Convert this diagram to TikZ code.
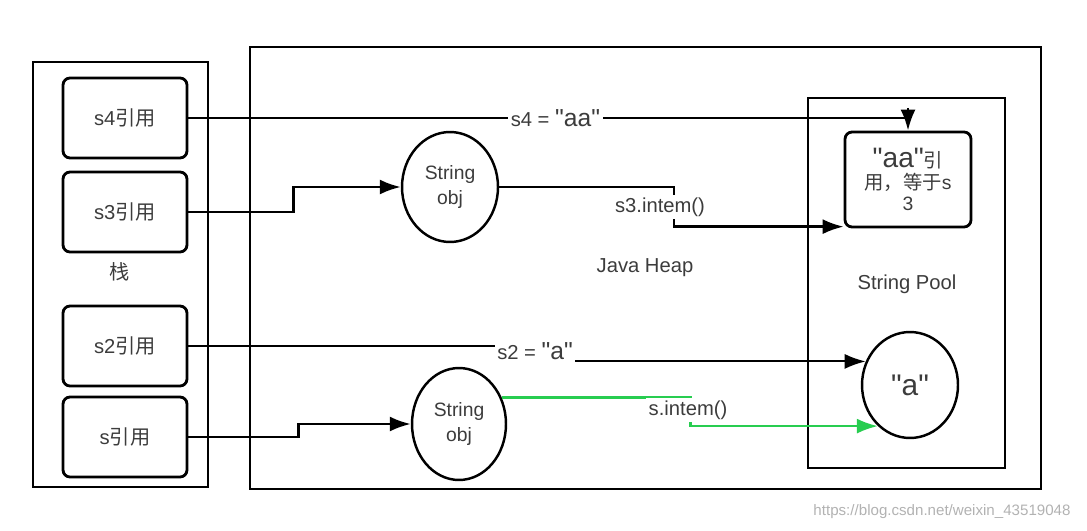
\documentclass[tikz,border=0pt]{standalone}
\usepackage{fontspec}
\setmainfont{Liberation Sans}
\newfontfamily\cjk{Noto Sans CJK SC}
\newfontfamily\qfont{Liberation Sans}
\usetikzlibrary{arrows.meta,shapes.geometric}

\definecolor{lblgray}{RGB}{60,60,60}
\definecolor{poolgreen}{RGB}{40,205,80}
\newcommand{\quoted}[1]{{\qfont"#1"}}

\tikzstyle{area}=[draw,line width=1.6pt,inner sep=0pt]
\tikzstyle{refbox}=[draw,line width=1.6pt,rounded corners=4pt,minimum width=2.48cm,minimum height=1.6cm,inner sep=0pt,text=lblgray,font=\fontsize{11.5}{13}\selectfont]
\tikzstyle{obj}=[draw,ellipse,line width=1.4pt,inner sep=0pt,align=center,text=lblgray,font=\fontsize{11}{14}\selectfont]
\tikzstyle{conn}=[line width=1.4pt]
\tikzstyle{lbl}=[fill=white,inner sep=1.5pt,text=lblgray,font=\fontsize{11.5}{13}\selectfont]
\tikzstyle{title}=[inner sep=0pt,text=lblgray,font=\fontsize{11.5}{13}\selectfont]

\begin{document}
\begin{tikzpicture}[x=0.02cm,y=-0.02cm]
	\useasboundingbox (0,0) rectangle (1087,530);
	\begin{scope}[>={Latex[length=0.42cm,width=0.3cm]}]
		% regions
		\node (stack)[area,minimum width=3.5cm,minimum height=8.5cm] at (120.5,274.5) {};
		\node (heap)[area,minimum width=15.82cm,minimum height=8.84cm] at (645.5,268) {};
		\node (pool)[area,minimum width=3.94cm,minimum height=7.4cm] at (906.5,283) {};
		\node (stacklbl)[title] at (120,272) {\cjk 栈};
		\node (heaplbl)[title] at (645,268) {Java Heap};
		\node (poollbl)[title] at (907,284) {String Pool};

		% references on the stack
		\node (s4)[refbox] at (125,118) {s4{\cjk 引用}};
		\node (s3)[refbox] at (125,212) {s3{\cjk 引用}};
		\node (s2)[refbox] at (125,346) {s2{\cjk 引用}};
		\node (s1)[refbox] at (125,437) {s{\cjk 引用}};

		% objects
		\node (obj1)[obj,minimum width=1.92cm,minimum height=2.2cm] at (450,187) {String\\obj};
		\node (obj2)[obj,minimum width=1.88cm,minimum height=2.24cm] at (459,424) {String\\obj};
		\node (aa)[refbox,minimum width=2.52cm,minimum height=1.9cm,align=center,font=\fontsize{11}{12}\selectfont] at (908,179.5)
			{{\fontsize{16}{16}\selectfont\quoted{aa}}{\cjk 引}\\{\cjk 用，等于}s\\3};
		\node (a)[obj,minimum width=1.92cm,minimum height=2.12cm,font=\fontsize{17}{17}\selectfont] at (910,385) {\quoted{a}};

		\coordinate (c4) at (908,118);
		\coordinate (t4) at (908,108);

		% connectors
		\draw[conn] (s4.east) -- (c4) node[lbl,pos=0.51] (l4) {s4 = {\fontsize{14}{14}\selectfont\quoted{aa}}};
		\draw[conn,->] (t4) -- (aa.north);
		\draw[conn,->] (s3.east) -- ++(105,0) |- (obj1.west);
		\draw[conn,->] (obj1.east) -- ++(175,0) |- ([yshift=1pt]aa.south west);
		\draw[conn,line width=1.1pt,->] (s2.east) -- ++(348,0) |- (a.152);
		\draw[conn,->] (s1.east) -- ++(110,0) |- (obj2.west);
		\draw[conn,->,poolgreen] (obj2.32) -- ++(189,0) |- (a.232);

		% labels on the connectors
		\node (l3)[lbl] at (660,207) {s3.intem()};
		\node (l2)[lbl] at (535,351) {s2 = {\fontsize{14}{14}\selectfont\quoted{a}}};
		\node (l1)[lbl] at (688,410) {s.intem()};

		\node (mark)[inner sep=0pt,text=black!30,font=\fontsize{8.6}{10}\selectfont] at (942,512) {https://blog.csdn.net/weixin\_43519048};
	\end{scope}
\end{tikzpicture}
\end{document}
